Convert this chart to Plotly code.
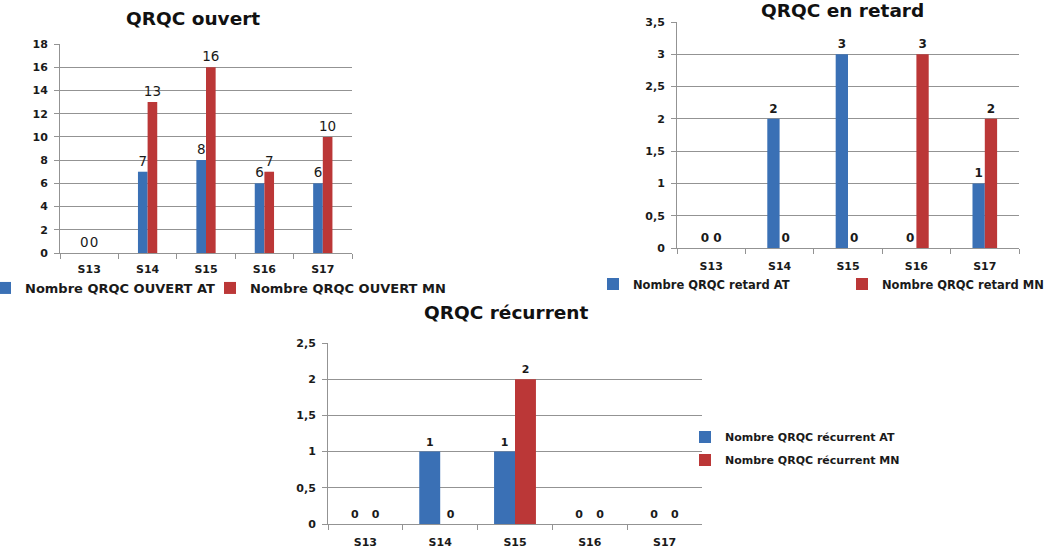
import plotly.graph_objects as go

weeks = ["S13", "S14", "S15", "S16", "S17"]

ouvert_at = [0, 7, 8, 6, 6]
ouvert_mn = [0, 13, 16, 7, 10]
retard_at = [0, 2, 3, 0, 1]
retard_mn = [0, 0, 0, 3, 2]
recurrent_at = [0, 1, 1, 0, 0]
recurrent_mn = [0, 0, 2, 0, 0]

W, H = 1053, 552
BLUE = '#3a70b5'
RED = '#bb3737'
GRID = '#939393'
INK = '#1a1a1a'
FONT = 'DejaVu Sans'


def px_x(a, b):
    return [a / W, b / W]


def px_y(top, bottom):
    return [1 - bottom / H, 1 - top / H]


fig = go.Figure()

# suffix, AT, MN, legend names, bar width (category units), label font, legend ids
charts = [
    ('', ouvert_at, ouvert_mn, 'Nombre QRQC OUVERT AT', 'Nombre QRQC OUVERT MN',
     0.165, dict(size=13.5, weight=400), ('legend', 'legend4')),
    ('2', retard_at, retard_mn, 'Nombre QRQC retard AT', 'Nombre QRQC retard MN',
     0.18, dict(size=12, weight=700), ('legend2', 'legend5')),
    ('3', recurrent_at, recurrent_mn, 'Nombre QRQC récurrent AT', 'Nombre QRQC récurrent MN',
     0.28, dict(size=11, weight=700), ('legend3', 'legend6')),
]

for suf, at, mn, name_at, name_mn, w, lfont, legs in charts:
    for vals, name, color, off, leg in [(at, name_at, BLUE, -w, legs[0]), (mn, name_mn, RED, 0, legs[1])]:
        fig.add_trace(go.Bar(
            x=weeks, y=vals, name=name,
            marker=dict(color=color, line=dict(width=0)),
            width=w, offset=off,
            text=[str(v) for v in vals],
            textposition='outside',
            constraintext='none',
            textfont=dict(color=INK, family=FONT, **lfont),
            cliponaxis=False,
            xaxis='x' + suf, yaxis='y' + suf,
            legend=leg
        ))

tick_font = dict(size=11, color=INK, family=FONT, weight=700)

def xax(domain, anchor, standoff):
    return dict(domain=domain, anchor=anchor, type='category',
                showline=True, linecolor=GRID, linewidth=1,
                ticks='outside', tickson='boundaries', ticklen=5, tickcolor=GRID,
                ticklabelstandoff=standoff,
                tickfont=tick_font, showgrid=False, fixedrange=True)

def yax(domain, anchor, rng, dtick):
    return dict(domain=domain, anchor=anchor, range=rng, dtick=dtick,
                showline=True, linecolor=GRID, linewidth=1,
                ticks='outside', ticklen=5, tickcolor=GRID,
                ticklabelstandoff=4,
                tickfont=tick_font, showgrid=True, gridcolor=GRID, gridwidth=1,
                zeroline=False, fixedrange=True)

def leg(x, y, size):
    # x is where the legend box starts; the entry text begins ~40px further right
    return dict(orientation='v', x=x / W, y=1 - y / H, xanchor='left', yanchor='middle',
                itemwidth=30, font=dict(size=size, color=INK, family=FONT, weight=700),
                bgcolor='rgba(0,0,0,0)')

fig.update_layout(
    width=W, height=H,
    margin=dict(l=0, r=0, t=0, b=0, autoexpand=False),
    paper_bgcolor='white', plot_bgcolor='white',
    separators=', ',
    xaxis=xax(px_x(60, 352), 'y', 6),
    yaxis=yax(px_y(44, 253), 'x', [0, 18], 2),
    xaxis2=xax(px_x(677, 1019), 'y2', 8),
    yaxis2=yax(px_y(22, 248), 'x2', [0, 3.5], 0.5),
    xaxis3=xax(px_x(328, 702), 'y3', 8),
    yaxis3=yax(px_y(343, 524), 'x3', [0, 2.5], 0.5),
    legend=leg(-15, 288, 13),
    legend4=leg(210, 288, 13),
    legend2=leg(593, 284, 11.5),
    legend5=leg(842, 284, 11.5),
    legend3=leg(685, 437, 11),
    legend6=leg(685, 460, 11),
    showlegend=True,
)

titles = [
    ('QRQC ouvert', 193, 18, 18.5),
    ('QRQC en retard', 842, 11, 18.5),
    ('QRQC récurrent', 506, 312, 18.5),
]
for text, cx, cy, size in titles:
    fig.add_annotation(
        text=text, x=cx / W, y=1 - cy / H, xref='paper', yref='paper',
        xanchor='center', yanchor='middle', showarrow=False,
        font=dict(size=size, color='#111111', family=FONT, weight=700)
    )

# the browser's default 8px body margin would shift the whole figure
fig.write_html("out.html", config={'displayModeBar': False},
               post_script="document.body.style.margin='0';")
